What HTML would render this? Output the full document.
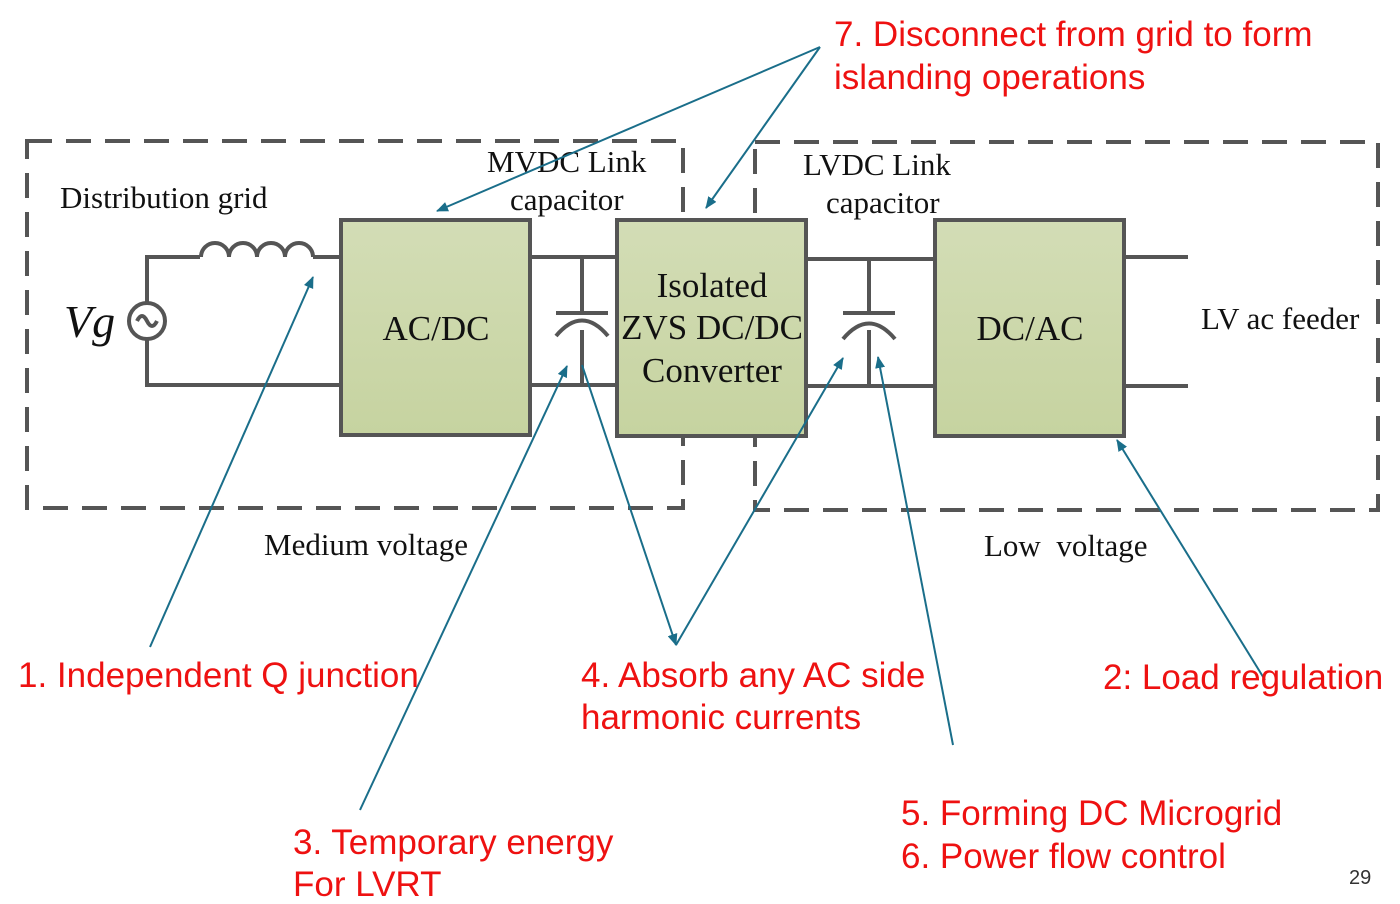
<!DOCTYPE html>
<html><head><meta charset="utf-8"><style>
html,body{margin:0;padding:0;background:#fff}
svg{display:block}
.s{font-family:"Liberation Serif",serif;fill:#111}
.r{font-family:"Liberation Sans",sans-serif;fill:#ee1111;font-size:35px}
</style></head><body>
<svg width="1400" height="904" viewBox="0 0 1400 904" xmlns="http://www.w3.org/2000/svg">
<defs>
<linearGradient id="g" x1="0" y1="0" x2="0" y2="1"><stop offset="0" stop-color="#d3ddb6"/><stop offset="1" stop-color="#c6d3a0"/></linearGradient>
<marker id="a" markerWidth="12" markerHeight="10" refX="11" refY="5" orient="auto" markerUnits="userSpaceOnUse"><path d="M0,0 L12,5 L0,10 z" fill="#1a6e8a"/></marker>
</defs>
<g fill="none" stroke="#555" stroke-width="4" stroke-dasharray="25,14">
<rect x="27" y="141" width="656" height="367"/>
<rect x="755" y="142" width="623" height="368"/>
</g>
<g stroke="#555" stroke-width="4" fill="none">
<path d="M341 257 H313 M200 257 H147 V385 H341"/>
<path d="M201 257 a14 14 0 0 1 28 0 a14 14 0 0 1 28 0 a14 14 0 0 1 28 0 a14 14 0 0 1 28 0"/>
<circle cx="147" cy="321" r="18" fill="#fff"/>
<path d="M137 321 q5 -10 10 0 q5 10 10 0"/>
<path d="M530 257 H617 M530 385 H617 M582 257 V313 M556 313 H608 M582 330 V385 M556 336 Q582 305 608 336"/>
<path d="M806 259 H935 M806 386 H935 M869 259 V313 M843 313 H895 M869 330 V386 M843 339 Q869 308 895 339"/>
<path d="M1124 257 H1188 M1124 386 H1188"/>
<rect x="341" y="220" width="189" height="215" fill="url(#g)"/>
<rect x="617" y="220" width="189" height="216" fill="url(#g)"/>
<rect x="935" y="220" width="189" height="216" fill="url(#g)"/>
</g>
<g class="s">
<text x="60" y="208" font-size="31">Distribution grid</text>
<text x="64" y="337" font-size="46" font-style="italic">Vg</text>
<text x="487" y="172" font-size="31">MVDC Link</text>
<text x="510" y="210" font-size="31">capacitor</text>
<text x="803" y="175" font-size="31">LVDC Link</text>
<text x="826" y="213" font-size="31">capacitor</text>
<text x="436" y="340" font-size="35" text-anchor="middle">AC/DC</text>
<text x="712" y="297" font-size="35" text-anchor="middle">Isolated</text>
<text x="712" y="339" font-size="35" text-anchor="middle">ZVS DC/DC</text>
<text x="712" y="382" font-size="35" text-anchor="middle">Converter</text>
<text x="1030" y="340" font-size="35" text-anchor="middle">DC/AC</text>
<text x="1201" y="329" font-size="31">LV ac feeder</text>
<text x="264" y="555" font-size="31">Medium voltage</text>
<text x="984" y="556" font-size="31" xml:space="preserve">Low  voltage</text>
</g>
<g stroke="#1a6e8a" stroke-width="2" fill="none" marker-end="url(#a)">
<path d="M820 47 L437 211"/>
<path d="M820 47 L706 208"/>
<path d="M150 647 L313 277"/>
<path d="M360 810 L567 366"/>
<path d="M582 365 L676 645"/>
<path d="M676 645 L843 358"/>
<path d="M953 745 L878 357"/>
<path d="M1265 680 L1117 440"/>
</g>
<g class="r">
<text x="834" y="46">7. Disconnect from grid to form</text>
<text x="834" y="89">islanding operations</text>
<text x="18" y="687">1. Independent Q junction</text>
<text x="581" y="687">4. Absorb any AC side</text>
<text x="581" y="729">harmonic currents</text>
<text x="1103" y="689">2: Load regulation</text>
<text x="901" y="825">5. Forming DC Microgrid</text>
<text x="901" y="868">6. Power flow control</text>
<text x="293" y="854">3. Temporary energy</text>
<text x="293" y="896">For LVRT</text>
</g>
<text x="1349" y="884" font-family="Liberation Sans,sans-serif" font-size="20" fill="#333">29</text>
</svg>
</body></html>
